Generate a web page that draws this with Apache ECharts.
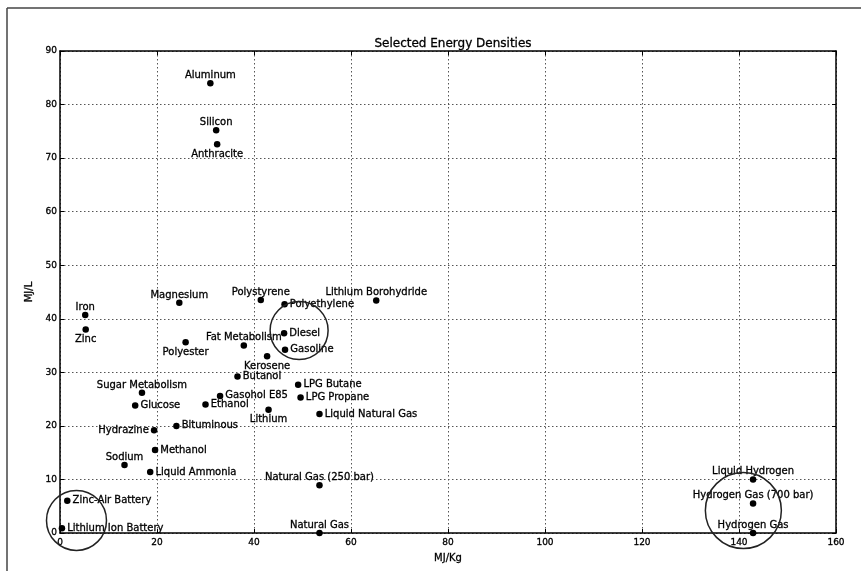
<!DOCTYPE html>
<html><head><meta charset="utf-8">
<script src="https://cdn.jsdelivr.net/npm/echarts@6/dist/echarts.min.js"></script>
<style>html,body{margin:0;padding:0;background:#fff}#c{width:861px;height:571px}</style>
</head><body><div id="c"></div><script>
const names = ["Aluminum","Silicon","Anthracite","Iron","Zinc","Magnesium","Polystyrene","Polyethylene",
  "Lithium Borohydride","Diesel","Gasoline","Fat Metabolism","Polyester","Kerosene","Butanol",
  "Sugar Metabolism","Glucose","Gasohol E85","Ethanol","LPG Butane","LPG Propane","Liquid Natural Gas",
  "Lithium","Hydrazine","Bituminous","Methanol","Sodium","Liquid Ammonia","Natural Gas (250 bar)",
  "Zinc-Air Battery","Lithium Ion Battery","Natural Gas","Liquid Hydrogen","Hydrogen Gas (700 bar)","Hydrogen Gas"];
const mjPerKg = [31.0,32.2,32.4,5.2,5.3,24.6,41.4,46.3,65.2,46.2,46.4,37.9,25.9,42.7,36.6,
  16.9,15.5,33.0,30.0,49.1,49.6,53.5,43.0,19.4,24.0,19.6,13.3,18.6,53.5,1.5,0.4,53.5,142.9,142.9,142.9];
const mjPerL = [84.0,75.2,72.6,40.7,38.0,43.0,43.5,42.7,43.4,37.3,34.2,35.0,35.6,33.0,29.2,
  26.2,23.8,25.6,24.0,27.7,25.3,22.2,23.0,19.2,20.0,15.5,12.7,11.4,8.9,6.0,0.9,0.0,10.0,5.5,0.0];
// highlight rings: centre (MJ/Kg, MJ/L)
const ringX = [49.3, 3.4, 140.9];
const ringY = [37.8, 2.35, 4.2];
const xMin = 0, xMax = 160, xStep = 20;
const yMin = 0, yMax = 90, yStep = 10;

const labelSide = {
  "Aluminum":"top","Silicon":"top","Anthracite":"bottom","Iron":"top","Zinc":"bottom","Magnesium":"top",
  "Polystyrene":"top","Lithium Borohydride":"top","Fat Metabolism":"top","Polyester":"bottom",
  "Kerosene":"bottom","Sugar Metabolism":"top","Lithium":"bottom","Hydrazine":"left","Sodium":"top",
  "Natural Gas (250 bar)":"top","Natural Gas":"top","Liquid Hydrogen":"top",
  "Hydrogen Gas (700 bar)":"top","Hydrogen Gas":"top"
};
const ringSizes = [58, 60, 76];
const FONT = "DejaVu Sans";

const points = names.map((n, i) => {
  const pos = labelSide[n] || "right";
  const dist = pos === "right" || pos === "left" ? 2 : (pos === "top" ? -1.5 : 0.5);
  return {
    name: n,
    value: [mjPerKg[i], mjPerL[i]],
    label: { position: pos, distance: dist }
  };
});
const rings = ringX.map((x, i) => ({ value: [x, ringY[i]], symbolSize: ringSizes[i] }));

const chart = echarts.init(document.getElementById("c"), null, { renderer: "canvas" });
const axisLine = { show: true, onZero: false, lineStyle: { color: "#000", width: 1.5 } };
const tickIn = { show: true, inside: true, length: 4, lineStyle: { color: "#000" } };
const txt = { fontFamily: FONT, color: "#000", textBorderColor: "#000", textBorderWidth: 0.3 };
chart.setOption({
  animation: false,
  backgroundColor: "#fff",
  title: {
    text: "Selected Energy Densities", left: 448, textAlign: "center", top: 33,
    textStyle: Object.assign({}, txt, { fontSize: 12, fontWeight: "normal" })
  },
  graphic: [
    { type: "line", shape: { x1: 7, y1: 8, x2: 861, y2: 8 }, style: { stroke: "#444", lineWidth: 1.5 } },
    { type: "line", shape: { x1: 7, y1: 8, x2: 7, y2: 571 }, style: { stroke: "#444", lineWidth: 1.5 } }
  ],
  grid: { left: 60, top: 51, width: 776, height: 482, containLabel: false },
  xAxis: [{
    type: "value", min: xMin, max: xMax, interval: xStep, position: "bottom",
    name: "MJ/Kg", nameLocation: "middle", nameGap: 20,
    nameTextStyle: Object.assign({}, txt, { fontSize: 10 }),
    axisLine, axisTick: tickIn,
    axisLabel: Object.assign({}, txt, { fontSize: 9, margin: 5 }),
    splitLine: { show: true, lineStyle: { type: [1.5, 2.5], color: "#555", width: 1 } }
  }, {
    type: "value", min: xMin, max: xMax, interval: xStep, position: "top",
    axisLine, axisTick: tickIn, axisLabel: { show: false }, splitLine: { show: false }
  }],
  yAxis: [{
    type: "value", min: yMin, max: yMax, interval: yStep, position: "left",
    name: "MJ/L", nameLocation: "middle", nameGap: 21, nameRotate: 90,
    nameTextStyle: Object.assign({}, txt, { fontSize: 10 }),
    axisLine, axisTick: tickIn,
    axisLabel: Object.assign({}, txt, { fontSize: 9, margin: 3 }),
    splitLine: { show: true, lineStyle: { type: [1.5, 2.5], color: "#555", width: 1 } }
  }, {
    type: "value", min: yMin, max: yMax, interval: yStep, position: "right",
    axisLine, axisTick: tickIn, axisLabel: { show: false }, splitLine: { show: false }
  }],
  series: [{
    type: "scatter", xAxisIndex: 0, yAxisIndex: 0, symbol: "circle", symbolSize: 6.5,
    itemStyle: { color: "#000", opacity: 1 }, clip: false,
    label: Object.assign({ show: true, formatter: "{b}", fontSize: 10, lineHeight: 12 }, txt),
    data: points, z: 3
  }, {
    type: "scatter", xAxisIndex: 0, yAxisIndex: 0, symbol: "circle", clip: false, silent: true,
    itemStyle: { color: "rgba(0,0,0,0)", borderColor: "#222", borderWidth: 1.5, opacity: 1 },
    data: rings, z: 4
  }]
});
</script></body></html>
